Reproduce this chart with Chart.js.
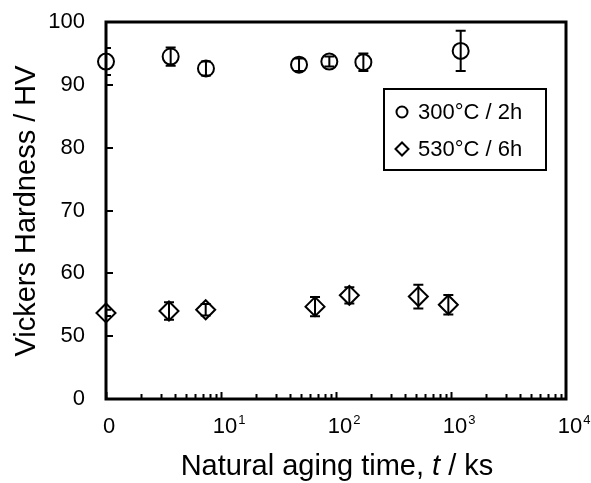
<!DOCTYPE html>
<html>
<head>
<meta charset="utf-8">
<script src="https://cdn.jsdelivr.net/npm/chart.js@4.4.1/dist/chart.umd.min.js"></script>
<style>
  html, body { margin: 0; padding: 0; background: #fff; }
  #wrap { width: 591px; height: 483px; }
</style>
</head>
<body>
<div id="wrap"><canvas id="c" width="591" height="483"></canvas></div>
<script>
// Natural aging time (ks); the as-quenched "0" sample sits at the 10^0 position of the log axis
const timesA = [1, 3.65, 7.4, 47.7, 87.5, 173, 1214];
const hvA    = [93.7, 94.5, 92.6, 93.2, 93.7, 93.6, 95.4];
const errA   = [2.15, 1.45, 1.1, 1.0, 0.8, 1.4, 3.2];

const timesB = [1, 3.53, 7.36, 65.7, 130.6, 520, 948];
const hvB    = [53.7, 54.0, 54.2, 54.7, 56.5, 56.3, 55.0];
const errB   = [0.5, 1.4, 0.9, 1.55, 1.3, 1.9, 1.55];

const seriesLabels = ['300°C / 2h', '530°C / 6h'];

const xTickValues = [1, 10, 100, 1000, 10000];
const xTickBases  = ['0', '10', '10', '10', '10'];
const xTickExps   = ['', '1', '2', '3', '4'];

const yTickValues = [40, 50, 60, 70, 80, 90, 100];
const yTickLabels = ['0', '50', '60', '70', '80', '90', '100'];

const FONT = '"Liberation Sans", Arial, sans-serif';

function toPoints(xs, ys) { return xs.map((x, i) => ({ x: x, y: ys[i] })); }

// Frame, inward tick marks, x labels with exponents, axis titles, legend and error bars
const decor = {
  id: 'decor',
  afterDatasetsDraw(chart) {
    const ctx = chart.ctx, a = chart.chartArea;
    const xs = chart.scales.x, ys = chart.scales.y;
    ctx.save();
    ctx.beginPath();
    ctx.rect(a.left, a.top, a.right - a.left, a.bottom - a.top);
    ctx.clip();
    ctx.strokeStyle = '#000';
    ctx.lineWidth = 2;
    [[timesA, hvA, errA], [timesB, hvB, errB]].forEach(([t, v, e]) => {
      t.forEach((tt, i) => {
        const x = xs.getPixelForValue(tt);
        const y1 = ys.getPixelForValue(v[i] + e[i]);
        const y2 = ys.getPixelForValue(v[i] - e[i]);
        ctx.beginPath();
        ctx.moveTo(x, y1); ctx.lineTo(x, y2);
        ctx.moveTo(x - 5, y1); ctx.lineTo(x + 5, y1);
        ctx.moveTo(x - 5, y2); ctx.lineTo(x + 5, y2);
        ctx.stroke();
      });
    });
    ctx.restore();
  },
  afterDraw(chart) {
    const ctx = chart.ctx, a = chart.chartArea;
    const xs = chart.scales.x, ys = chart.scales.y;
    ctx.save();
    ctx.strokeStyle = '#000';
    ctx.fillStyle = '#000';

    // plot frame
    ctx.lineWidth = 3;
    ctx.strokeRect(a.left, a.top, a.right - a.left, a.bottom - a.top);

    // y ticks pointing inward
    ctx.lineWidth = 2;
    ctx.beginPath();
    yTickValues.forEach(v => {
      const y = Math.round(ys.getPixelForValue(v));
      ctx.moveTo(a.left, y); ctx.lineTo(a.left + 7, y);
    });
    // x ticks (log decades with minor marks) pointing inward
    for (let d = 0; d < 4; d++) {
      for (let m = 1; m <= 9; m++) {
        const v = m * Math.pow(10, d);
        const x = Math.round(xs.getPixelForValue(v)) + 0.5;
        const len = m === 1 ? 7 : 5;
        ctx.moveTo(x, a.bottom); ctx.lineTo(x, a.bottom - len);
      }
    }
    ctx.stroke();

    // x tick labels
    ctx.textBaseline = 'alphabetic';
    xTickValues.forEach((v, i) => {
      const x = xs.getPixelForValue(v);
      ctx.font = '22px ' + FONT;
      const bw = ctx.measureText(xTickBases[i]).width;
      const cx = x + (xTickExps[i] ? 4 : 3);
      ctx.textAlign = 'left';
      ctx.fillText(xTickBases[i], cx - bw / 2, 433);
      if (xTickExps[i]) {
        ctx.font = '13px ' + FONT;
        ctx.fillText(xTickExps[i], cx + bw / 2 + 1, 424);
      }
    });

    // x axis title with italic symbol
    const parts = [['Natural aging time, ', ''], ['t', 'italic '], [' / ks', '']];
    let total = 0;
    parts.forEach(p => { ctx.font = p[1] + '29px ' + FONT; total += ctx.measureText(p[0]).width; });
    let px = 337 - total / 2;
    parts.forEach(p => {
      ctx.font = p[1] + '29px ' + FONT;
      ctx.fillText(p[0], px, 475);
      px += ctx.measureText(p[0]).width;
    });

    // y axis title
    ctx.save();
    ctx.translate(27, 211);
    ctx.rotate(-Math.PI / 2);
    ctx.font = '29px ' + FONT;
    ctx.textAlign = 'center';
    ctx.textBaseline = 'middle';
    ctx.fillText('Vickers Hardness / HV', 0, 0);
    ctx.restore();

    // legend
    ctx.lineWidth = 2;
    ctx.strokeRect(384, 89, 162, 81);
    const rows = [112, 149];
    chart.data.datasets.forEach((ds, i) => {
      ctx.strokeStyle = '#000';
      ctx.fillStyle = 'rgba(0,0,0,0)';
      ctx.lineWidth = 2;
      Chart.helpers.drawPoint(ctx, {
        pointStyle: ds.pointStyle, radius: ds.pointStyle === 'circle' ? 5.5 : 6.5,
        rotation: 0, borderWidth: 2
      }, 402, rows[i]);
      ctx.fillStyle = '#000';
      ctx.font = '22px ' + FONT;
      ctx.textAlign = 'left';
      ctx.textBaseline = 'middle';
      ctx.fillText(ds.label, 418, rows[i] + 1);
    });
    ctx.restore();
  }
};

new Chart(document.getElementById('c'), {
  type: 'scatter',
  data: {
    datasets: [
      {
        label: seriesLabels[0],
        data: toPoints(timesA, hvA),
        pointStyle: 'circle',
        pointRadius: 8,
        pointHoverRadius: 8,
        borderColor: '#000',
        backgroundColor: 'rgba(0,0,0,0)',
        borderWidth: 2,
        clip: false
      },
      {
        label: seriesLabels[1],
        data: toPoints(timesB, hvB),
        pointStyle: 'rectRot',
        pointRadius: 9.5,
        pointHoverRadius: 9.5,
        borderColor: '#000',
        backgroundColor: 'rgba(0,0,0,0)',
        borderWidth: 2,
        clip: false
      }
    ]
  },
  options: {
    responsive: false,
    animation: false,
    devicePixelRatio: 1,
    layout: { padding: { top: 22, right: 25, left: 0, bottom: 0 } },
    plugins: { legend: { display: false }, tooltip: { enabled: false } },
    events: [],
    scales: {
      x: {
        type: 'logarithmic',
        min: 1,
        max: 10000,
        grid: { display: false, drawTicks: false },
        border: { display: false },
        ticks: { display: false, padding: 0 },
        afterBuildTicks: s => { s.ticks = xTickValues.map(v => ({ value: v })); },
        afterFit: s => { s.height = 84; }
      },
      y: {
        min: 40,
        max: 100,
        grid: { display: false, drawTicks: true, tickLength: 20 },
        border: { display: false },
        afterBuildTicks: s => { s.ticks = yTickValues.map(v => ({ value: v })); },
        ticks: {
          padding: 1,
          color: '#000',
          font: { family: FONT, size: 22 },
          callback: (v, i) => yTickLabels[i]
        },
        afterFit: s => { s.width = 106; }
      }
    }
  },
  plugins: [decor]
});
</script>
</body>
</html>
